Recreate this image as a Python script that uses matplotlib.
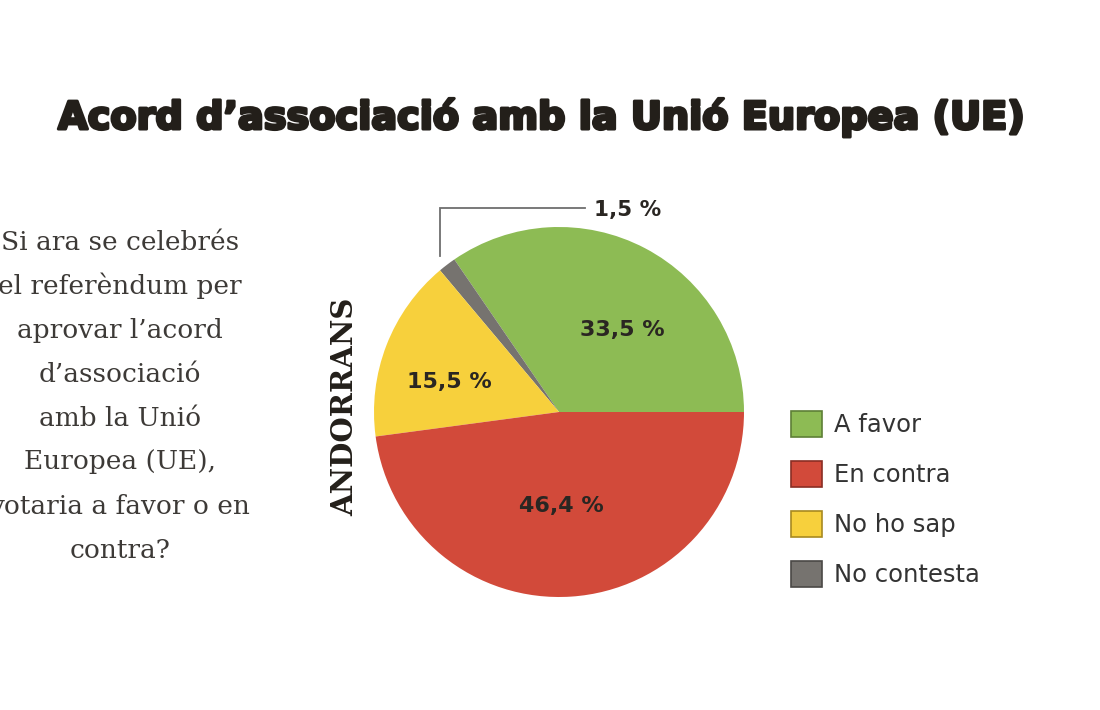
import matplotlib
matplotlib.use("Agg")
import matplotlib.pyplot as plt
import matplotlib.patheffects as pe
import numpy as np
from matplotlib.patches import Patch

# ---- data ----
categories = ["A favor", "En contra", "No ho sap", "No contesta"]
values = [33.5, 46.4, 15.5, 1.5]
value_labels = ["33,5 %", "46,4 %", "15,5 %", "1,5 %"]
colors = ["#8dbb54", "#d24a3a", "#f7d03c", "#76736f"]
edge_colors = ["#5e7f36", "#8a2e24", "#a88a20", "#4a4846"]
title = "Acord d\u2019associaci\u00f3 amb la Uni\u00f3 Europea (UE)"
question_lines = ["Si ara se celebr\u00e9s", "el refer\u00e8ndum per", "aprovar l\u2019acord",
                  "d\u2019associaci\u00f3", "amb la Uni\u00f3", "Europea (UE),",
                  "votaria a favor o en", "contra?"]
group_label = "ANDORRANS"

W, H = 1100, 710
fig = plt.figure(figsize=(W / 100, H / 100), dpi=100)
fig.patch.set_facecolor("white")

# order of drawing: counter-clockwise from 3 o'clock: green, gray, yellow, red
order = [0, 3, 2, 1]
pie_vals = [values[i] for i in order]
pie_cols = [colors[i] for i in order]

cx, cy, R = 559, 412, 185
ax = fig.add_axes([(cx - R) / W, (H - cy - R) / H, 2 * R / W, 2 * R / H])
wedges, _ = ax.pie(pie_vals, colors=pie_cols, startangle=0, counterclock=True,
                   radius=1, wedgeprops=dict(linewidth=0))
ax.set_xlim(-1, 1)
ax.set_ylim(-1, 1)
ax.set_aspect("equal")
ax.axis("off")

# (radial distance, angle offset in degrees) for in-slice labels
label_pos = {0: (0.56, -10), 1: (0.51, -2.6), 2: (0.615, 6)}
txt_col = "#2a2622"
for w, idx in zip(wedges, order):
    mid_deg = (w.theta1 + w.theta2) / 2
    if idx in label_pos:
        d, off = label_pos[idx]
        a = np.deg2rad(mid_deg + off)
        ax.text(d * np.cos(a), d * np.sin(a), value_labels[idx], ha="center",
                va="center", fontsize=16, fontweight="bold", color=txt_col,
                family="DejaVu Sans")
    else:
        mid = np.deg2rad(mid_deg)
        x0, y0 = 1.06 * np.cos(mid), 1.06 * np.sin(mid)
        ytop = 1.10
        x1 = 0.14
        ax.plot([x0, x0, x1], [y0, ytop, ytop], color="#6e6e6e", lw=1.3,
                clip_on=False, solid_joinstyle="miter")
        ax.text(x1 + 0.05, ytop - 0.01, value_labels[idx], ha="left", va="center",
                fontsize=15.5, fontweight="bold", color=txt_col, family="DejaVu Sans")

# title (heavy look via stroke)
t = fig.text(542 / W, 1 - 118 / H, title, ha="center", va="center",
             fontsize=30, fontweight="bold", color="#231f1a", family="DejaVu Sans",
             path_effects=[pe.withStroke(linewidth=2.2, foreground="#231f1a")])
fig.canvas.draw()
bb = t.get_window_extent()
t.set_fontsize(30 * 965 / bb.width)

# question text
for k, line in enumerate(question_lines):
    fig.text(120 / W, 1 - (242 + 44 * k) / H, line, ha="center", va="center",
             fontsize=19, color="#3d3a37", family="DejaVu Serif")

# vertical group label
fig.text(345 / W, 1 - 407 / H, group_label, rotation=90, ha="center", va="center",
         fontsize=21, fontweight="bold", color="#231f1a", family="DejaVu Serif")

# legend
handles = [Patch(facecolor=c, edgecolor=e, linewidth=1.2) for c, e in zip(colors, edge_colors)]
fig.legend(handles, categories, loc="upper left", bbox_to_anchor=(791 / W, 1 - 411 / H),
           frameon=False, fontsize=17.5, handlelength=1.26, handleheight=1.26,
           labelspacing=0.98, handletextpad=0.5, borderpad=0, borderaxespad=0,
           labelcolor="#333333")

fig.savefig("out.png", dpi=100, facecolor="white")
